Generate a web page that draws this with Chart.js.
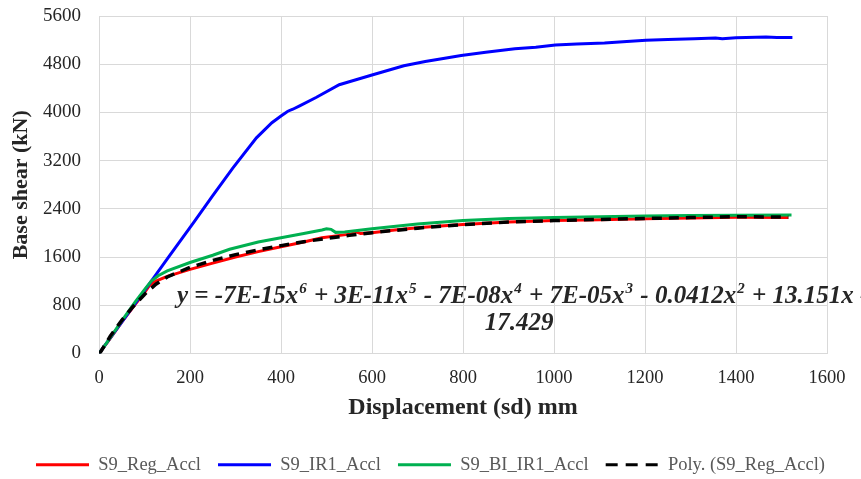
<!DOCTYPE html>
<html>
<head>
<meta charset="utf-8">
<script src="https://cdn.jsdelivr.net/npm/chart.js@4.4.1/dist/chart.umd.min.js"></script>
<style>
  html, body { margin: 0; padding: 0; background: #fff; }
  #wrap { width: 861px; height: 479px; }
</style>
</head>
<body>
<div id="wrap"><canvas id="pushover"></canvas></div>
<script>
// ── Data ────────────────────────────────────────────────────────────
const regDisp  = [0, 20, 50, 80, 100, 111, 125, 150, 200, 250, 300, 350, 400, 450, 490, 530, 555, 565, 575, 600, 650, 700, 750, 800, 850, 900, 1000, 1100, 1200, 1300, 1400, 1515];
const regShear = [0, 200, 520, 820, 1010, 1130, 1200, 1280, 1395, 1500, 1600, 1690, 1770, 1850, 1920, 1960, 1985, 2020, 1990, 2005, 2050, 2085, 2115, 2140, 2160, 2180, 2205, 2220, 2235, 2250, 2260, 2255];

const ir1Disp  = [0, 50, 100, 150, 209, 250, 294, 346, 380, 400, 415, 426, 441, 477, 528, 550, 600, 670, 717, 760, 796, 850, 914, 960, 1003, 1050, 1111, 1160, 1202, 1250, 1308, 1355, 1370, 1400, 1466, 1490, 1524];
const ir1Shear = [0, 520, 1045, 1570, 2184, 2620, 3076, 3578, 3830, 3941, 4020, 4053, 4110, 4248, 4460, 4510, 4620, 4775, 4845, 4900, 4945, 5000, 5058, 5080, 5120, 5135, 5150, 5175, 5196, 5210, 5224, 5236, 5222, 5240, 5252, 5245, 5245];

const biDisp   = [0, 20, 50, 80, 100, 115, 130, 150, 200, 250, 287, 350, 400, 450, 490, 500, 510, 520, 540, 600, 700, 800, 900, 1000, 1100, 1200, 1300, 1400, 1522];
const biShear  = [0, 210, 540, 860, 1060, 1200, 1290, 1370, 1510, 1630, 1730, 1850, 1920, 1990, 2050, 2070, 2060, 2010, 2015, 2070, 2150, 2205, 2240, 2255, 2270, 2280, 2290, 2295, 2300];

// trendline of S9_Reg_Accl as drawn in the picture
const polyDisp  = [0, 25, 50, 75, 100, 125, 150, 200, 250, 300, 350, 400, 450, 500, 550, 600, 700, 800, 900, 1000, 1100, 1200, 1300, 1400, 1515];
const polyShear = [-17, 290, 550, 780, 980, 1150, 1270, 1430, 1545, 1640, 1720, 1790, 1855, 1910, 1960, 2005, 2080, 2140, 2180, 2205, 2225, 2240, 2255, 2270, 2262];

const seriesNames = ['S9_Reg_Accl', 'S9_IR1_Accl', 'S9_BI_IR1_Accl', 'Poly. (S9_Reg_Accl)'];
const xTicks = [0, 200, 400, 600, 800, 1000, 1200, 1400, 1600];
const yTicks = [0, 800, 1600, 2400, 3200, 4000, 4800, 5600];

// trendline equation, [text, superscript]
const eqLine1 = [['y = -7E-15x', '6'], [' + 3E-11x', '5'], [' - 7E-08x', '4'], [' + 7E-05x', '3'], [' - 0.0412x', '2'], [' + 13.151x -', '']];
const eqLine2 = '17.429';

const pts = (xs, ys) => xs.map((x, i) => ({ x, y: ys[i] }));

// ── Equation label ──────────────────────────────────────────────────
const equationLabel = {
    id: 'equationLabel',
    afterDatasetsDraw(chart) {
        const ctx = chart.ctx;
        const big = 'italic bold 25px "Liberation Serif"';
        const small = 'italic bold 15px "Liberation Serif"';
        ctx.save();
        ctx.fillStyle = '#262626';
        ctx.textBaseline = 'alphabetic';
        let x = 177;
        const y = 303;
        eqLine1.forEach(([txt, sup]) => {
            ctx.font = big;
            ctx.fillText(txt, x, y);
            x += ctx.measureText(txt).width;
            if (sup) {
                ctx.font = small;
                ctx.fillText(sup, x + 1, y - 10);
                x += ctx.measureText(sup).width + 2;
            }
        });
        ctx.font = big;
        ctx.textAlign = 'center';
        ctx.fillText(eqLine2, 519, 330);
        ctx.restore();
    }
};

const serif = '"Liberation Serif", "Times New Roman", serif';

// legend samples keep the dataset dash / width
function legendItems(chart) {
    return Chart.defaults.plugins.legend.labels.generateLabels(chart).map(item => {
        const ds = chart.data.datasets[item.datasetIndex];
        return Object.assign(item, {
            lineDash: ds.borderDash ? [12, 8] : [],
            lineWidth: 3,
            strokeStyle: ds.borderColor,
            fillStyle: ds.borderColor
        });
    });
}

new Chart(document.getElementById('pushover'), {
    type: 'line',
    data: {
        datasets: [
            { label: seriesNames[0], data: pts(regDisp, regShear), borderColor: '#ff0000', backgroundColor: '#ff0000', borderWidth: 3, order: 3 },
            { label: seriesNames[1], data: pts(ir1Disp, ir1Shear), borderColor: '#0000ff', backgroundColor: '#0000ff', borderWidth: 3, order: 2 },
            { label: seriesNames[2], data: pts(biDisp, biShear), borderColor: '#00b050', backgroundColor: '#00b050', borderWidth: 3, order: 1 },
            { label: seriesNames[3], data: pts(polyDisp, polyShear), borderColor: '#000000', backgroundColor: '#000000', borderWidth: 3.5, borderDash: [10, 7], order: 0 }
        ]
    },
    options: {
        responsive: true,
        maintainAspectRatio: false,
        animation: false,
        layout: { padding: { top: 16, right: 0, left: 0, bottom: -5 } },
        elements: { point: { radius: 0 }, line: { tension: 0, borderCapStyle: 'butt' } },
        plugins: {
            tooltip: { enabled: false },
            legend: {
                position: 'bottom',
                labels: {
                    usePointStyle: true,
                    pointStyle: 'line',
                    pointStyleWidth: 53,
                    padding: 17,
                    color: '#595959',
                    font: { family: serif, size: 18.5 },
                    generateLabels: legendItems,
                    sort: (a, b) => a.datasetIndex - b.datasetIndex
                }
            }
        },
        scales: {
            x: {
                type: 'linear',
                min: 0, max: 1600,
                afterBuildTicks: (s) => { s.ticks = xTicks.map(v => ({ value: v })); },
                afterFit: (s) => { s.height = 85; s.paddingRight = 34; },
                grid: { color: '#d9d9d9', drawTicks: false },
                border: { color: '#d9d9d9' },
                ticks: { padding: 14, color: '#262626', font: { family: serif, size: 18.5 },
                         callback: (v) => String(v) },
                title: { display: true, text: 'Displacement (sd) mm', color: '#262626',
                         font: { family: serif, size: 24, weight: 'bold' }, padding: { bottom: 16 } }
            },
            y: {
                min: 0, max: 5600,
                afterBuildTicks: (s) => { s.ticks = yTicks.map(v => ({ value: v })); },
                afterFit: (s) => { s.width = 99; s.paddingTop = 0; },
                grid: { color: '#d9d9d9', drawTicks: false },
                border: { color: '#d9d9d9' },
                ticks: { padding: 18, color: '#262626', font: { family: serif, size: 19 },
                         callback: (v) => String(v) },
                title: { display: true, text: 'Base shear (kN)', color: '#262626',
                         font: { family: serif, size: 22, weight: 'bold' }, padding: { top: 8 } }
            }
        }
    },
    plugins: [equationLabel]
});
</script>
</body>
</html>
